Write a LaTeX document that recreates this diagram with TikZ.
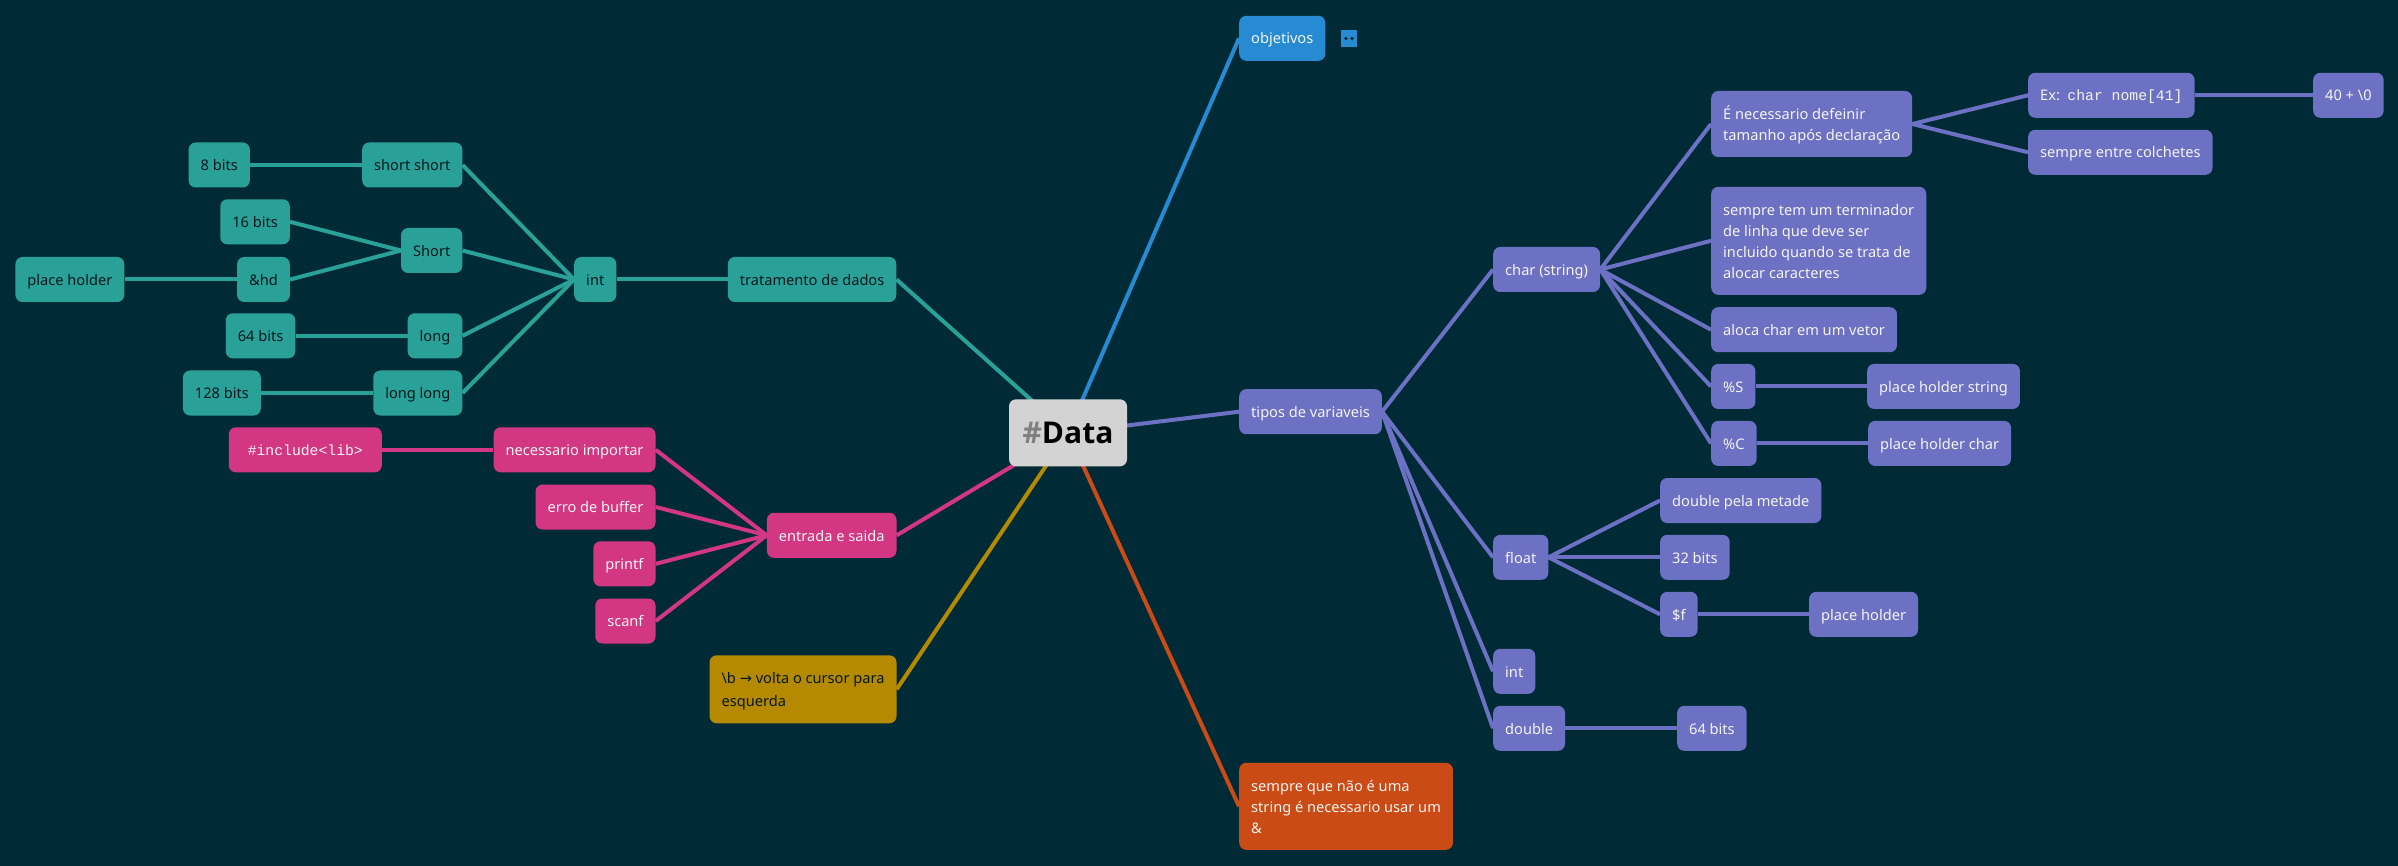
\documentclass[tikz,border=0pt]{standalone}
\usepackage{fontspec}
\setmainfont{Noto Sans}
\setmonofont[Scale=1.01]{Liberation Mono}
\newfontfamily\arrowfont{DejaVu Sans}
\newfontfamily\rootfont{Open Sans}
\usetikzlibrary{backgrounds}
\definecolor{mapback}{HTML}{002B36}
\definecolor{mapblue}{HTML}{268BD2}
\definecolor{mapteal}{HTML}{2AA198}
\definecolor{mappink}{HTML}{D33682}
\definecolor{mapgold}{HTML}{B58900}
\definecolor{maporange}{HTML}{CB4B16}
\definecolor{mapviolet}{HTML}{6C71C4}
\definecolor{maproot}{HTML}{D3D3D3}
\definecolor{mapink}{HTML}{03181C}
\definecolor{mappale}{HTML}{F4F4F0}
\newcommand{\firstline}{\rule{0pt}{17pt}}

\begin{document}
\begin{tikzpicture}
    [x=1pt,y=-1pt,
      topic/.style={rounded corners=7,inner xsep=12,inner ysep=0,minimum height=45,
          font=\fontsize{14.6}{21}\selectfont,text=mappale},
      oneline/.style={topic,text height=16.2,text depth=4.8},
      severalline/.style={topic,align=left,execute at end node=\rule[-5.5pt]{0pt}{5.5pt}},
      tealtopic/.style={oneline,fill=mapteal,text=mapink,anchor=east},
      pinktopic/.style={oneline,fill=mappink,anchor=east},
      violettopic/.style={oneline,fill=mapviolet,anchor=west},
      violetlong/.style={severalline,fill=mapviolet,anchor=west},
      link/.style={line width=4}
    ]
    \useasboundingbox (0,0) rectangle (2398,866);

    \node [rounded corners=7,fill=maproot,minimum width=118,minimum height=67,inner sep=0,
      font=\rootfont\fontsize{30}{32}\selectfont\bfseries] (data) at (1068,432.8)
      {\textcolor{black!50}{\#}\textcolor{black}{Data}};

    \node [oneline,fill=mapblue,anchor=west] (objetivos) at (1239,38.3) {objetivos};
    \node [fill=mapblue,minimum size=16.4,inner sep=0] (icon) at (1349,38.5) {};
    \node [circle,fill=mapback,minimum size=3.6,inner sep=0] (dotleft) at (1346,38.5) {};
    \node [circle,fill=mapback,minimum size=3.6,inner sep=0] (dotright) at (1352,38.5) {};

    \node [tealtopic] (dados) at (896.5,279.5) {tratamento de dados};
    \node [tealtopic] (intleft) at (616.5,279.5) {int};
    \node [tealtopic] (shortshort) at (462.5,165) {short short};
    \node [tealtopic] (bits8) at (250,165) {8 bits};
    \node [tealtopic] (short) at (462.5,250.5) {Short};
    \node [tealtopic] (bits16) at (290,221.8) {16 bits};
    \node [tealtopic] (hd) at (290,279.5) {\&hd};
    \node [tealtopic] (holderleft) at (124.5,279.5) {place holder};
    \node [tealtopic] (long) at (462.5,335.8) {long};
    \node [tealtopic] (bits64left) at (295.5,335.8) {64 bits};
    \node [tealtopic] (longlong) at (462.5,393) {long long};
    \node [tealtopic] (bits128) at (261,393) {128 bits};

    \node [pinktopic] (entrada) at (896.7,535.3) {entrada e saida};
    \node [pinktopic] (importar) at (655.7,449.8) {necessario importar};
    \node [pinktopic,minimum width=153] (include) at (382,449.8) {\texttt{\#include<lib>}};
    \node [pinktopic] (buffer) at (655.7,507) {erro de buffer};
    \node [pinktopic] (printf) at (655.7,563.8) {printf};
    \node [pinktopic] (scanf) at (655.7,621) {scanf};

    \node [severalline,fill=mapgold,text=mapink,anchor=east,minimum height=68] (cursor) at (896.7,689.3)
      {\firstline\textbackslash b {\arrowfont\fontsize{14.6}{21}\selectfont →} volta o cursor para\\[2pt]esquerda};

    \node [severalline,fill=maporange,anchor=west,minimum height=87] (sempre) at (1239,806.3)
      {\firstline sempre que não é uma\\string é necessario usar um\\\&};

    \node [violettopic] (tipos) at (1239,411.7) {tipos de variaveis};
    \node [violettopic] (char) at (1493,269.5) {char (string)};
    \node [violetlong,minimum height=66] (tamanho) at (1711,124)
      {\firstline É necessario defeinir\\tamanho após declaração};
    \node [violettopic] (exemplo) at (2028,95.3) {Ex:\hspace{7.5pt}\texttt{char nome[41]}\hspace{6pt}};
    \node [violettopic] (quarenta) at (2313,95.3) {40 + \textbackslash 0};
    \node [violettopic] (colchetes) at (2028,152.3) {sempre entre colchetes};
    \node [violetlong,minimum height=108] (terminador) at (1711,240.8)
      {\firstline sempre tem um terminador\\de linha que deve ser\\incluido quando se trata de\\alocar caracteres};
    \node [violettopic] (vetor) at (1711,329.7) {aloca char em um vetor};
    \node [violettopic] (percs) at (1711,386.4) {\%S};
    \node [violettopic] (holderstring) at (1867,386.4) {place holder string};
    \node [violettopic] (percc) at (1711,443.4) {\%C};
    \node [violettopic] (holderchar) at (1868,443.4) {place holder char};
    \node [violettopic] (float) at (1493,557.3) {float};
    \node [violettopic] (metade) at (1660,500.5) {double pela metade};
    \node [violettopic] (bits32) at (1660,557.3) {32 bits};
    \node [violettopic] (percf) at (1660,614.3) {\$f};
    \node [violettopic] (holderright) at (1809,614.3) {place holder};
    \node [violettopic] (intright) at (1493,671.3) {int};
    \node [violettopic] (double) at (1493,728.3) {double};
    \node [violettopic] (bits64right) at (1677,728.3) {64 bits};

    \begin{scope}[on background layer]
      \fill [mapback] (0,0) rectangle (2398,866);
      \draw [link,mapblue] (data.center) -- (objetivos.west);
      \draw [link,mapgold] (data.center) -- (cursor.east);
      \draw [link,maporange] (data.center) -- (sempre.west);
      \draw [link,mapteal] (data.center) -- (dados.east);
      \draw [link,mapteal] (dados.west) -- (intleft.east);
      \draw [link,mapteal] (intleft.west) -- (shortshort.east);
      \draw [link,mapteal] (intleft.west) -- (short.east);
      \draw [link,mapteal] (intleft.west) -- (long.east);
      \draw [link,mapteal] (intleft.west) -- (longlong.east);
      \draw [link,mapteal] (shortshort.west) -- (bits8.east);
      \draw [link,mapteal] (short.west) -- (bits16.east);
      \draw [link,mapteal] (short.west) -- (hd.east);
      \draw [link,mapteal] (hd.west) -- (holderleft.east);
      \draw [link,mapteal] (long.west) -- (bits64left.east);
      \draw [link,mapteal] (longlong.west) -- (bits128.east);
      \draw [link,mappink] (data.center) -- (entrada.east);
      \draw [link,mappink] (entrada.west) -- (importar.east);
      \draw [link,mappink] (entrada.west) -- (buffer.east);
      \draw [link,mappink] (entrada.west) -- (printf.east);
      \draw [link,mappink] (entrada.west) -- (scanf.east);
      \draw [link,mappink] (importar.west) -- (include.east);
      \draw [link,mapviolet] (data.center) -- (tipos.west);
      \draw [link,mapviolet] (tipos.east) -- (char.west);
      \draw [link,mapviolet] (tipos.east) -- (float.west);
      \draw [link,mapviolet] (tipos.east) -- (intright.west);
      \draw [link,mapviolet] (tipos.east) -- (double.west);
      \draw [link,mapviolet] (char.east) -- (tamanho.west);
      \draw [link,mapviolet] (char.east) -- (terminador.west);
      \draw [link,mapviolet] (char.east) -- (vetor.west);
      \draw [link,mapviolet] (char.east) -- (percs.west);
      \draw [link,mapviolet] (char.east) -- (percc.west);
      \draw [link,mapviolet] (tamanho.east) -- (exemplo.west);
      \draw [link,mapviolet] (tamanho.east) -- (colchetes.west);
      \draw [link,mapviolet] (exemplo.east) -- (quarenta.west);
      \draw [link,mapviolet] (percs.east) -- (holderstring.west);
      \draw [link,mapviolet] (percc.east) -- (holderchar.west);
      \draw [link,mapviolet] (float.east) -- (metade.west);
      \draw [link,mapviolet] (float.east) -- (bits32.west);
      \draw [link,mapviolet] (float.east) -- (percf.west);
      \draw [link,mapviolet] (percf.east) -- (holderright.west);
      \draw [link,mapviolet] (double.east) -- (bits64right.west);
    \end{scope}
  \end{tikzpicture}
\end{document}
